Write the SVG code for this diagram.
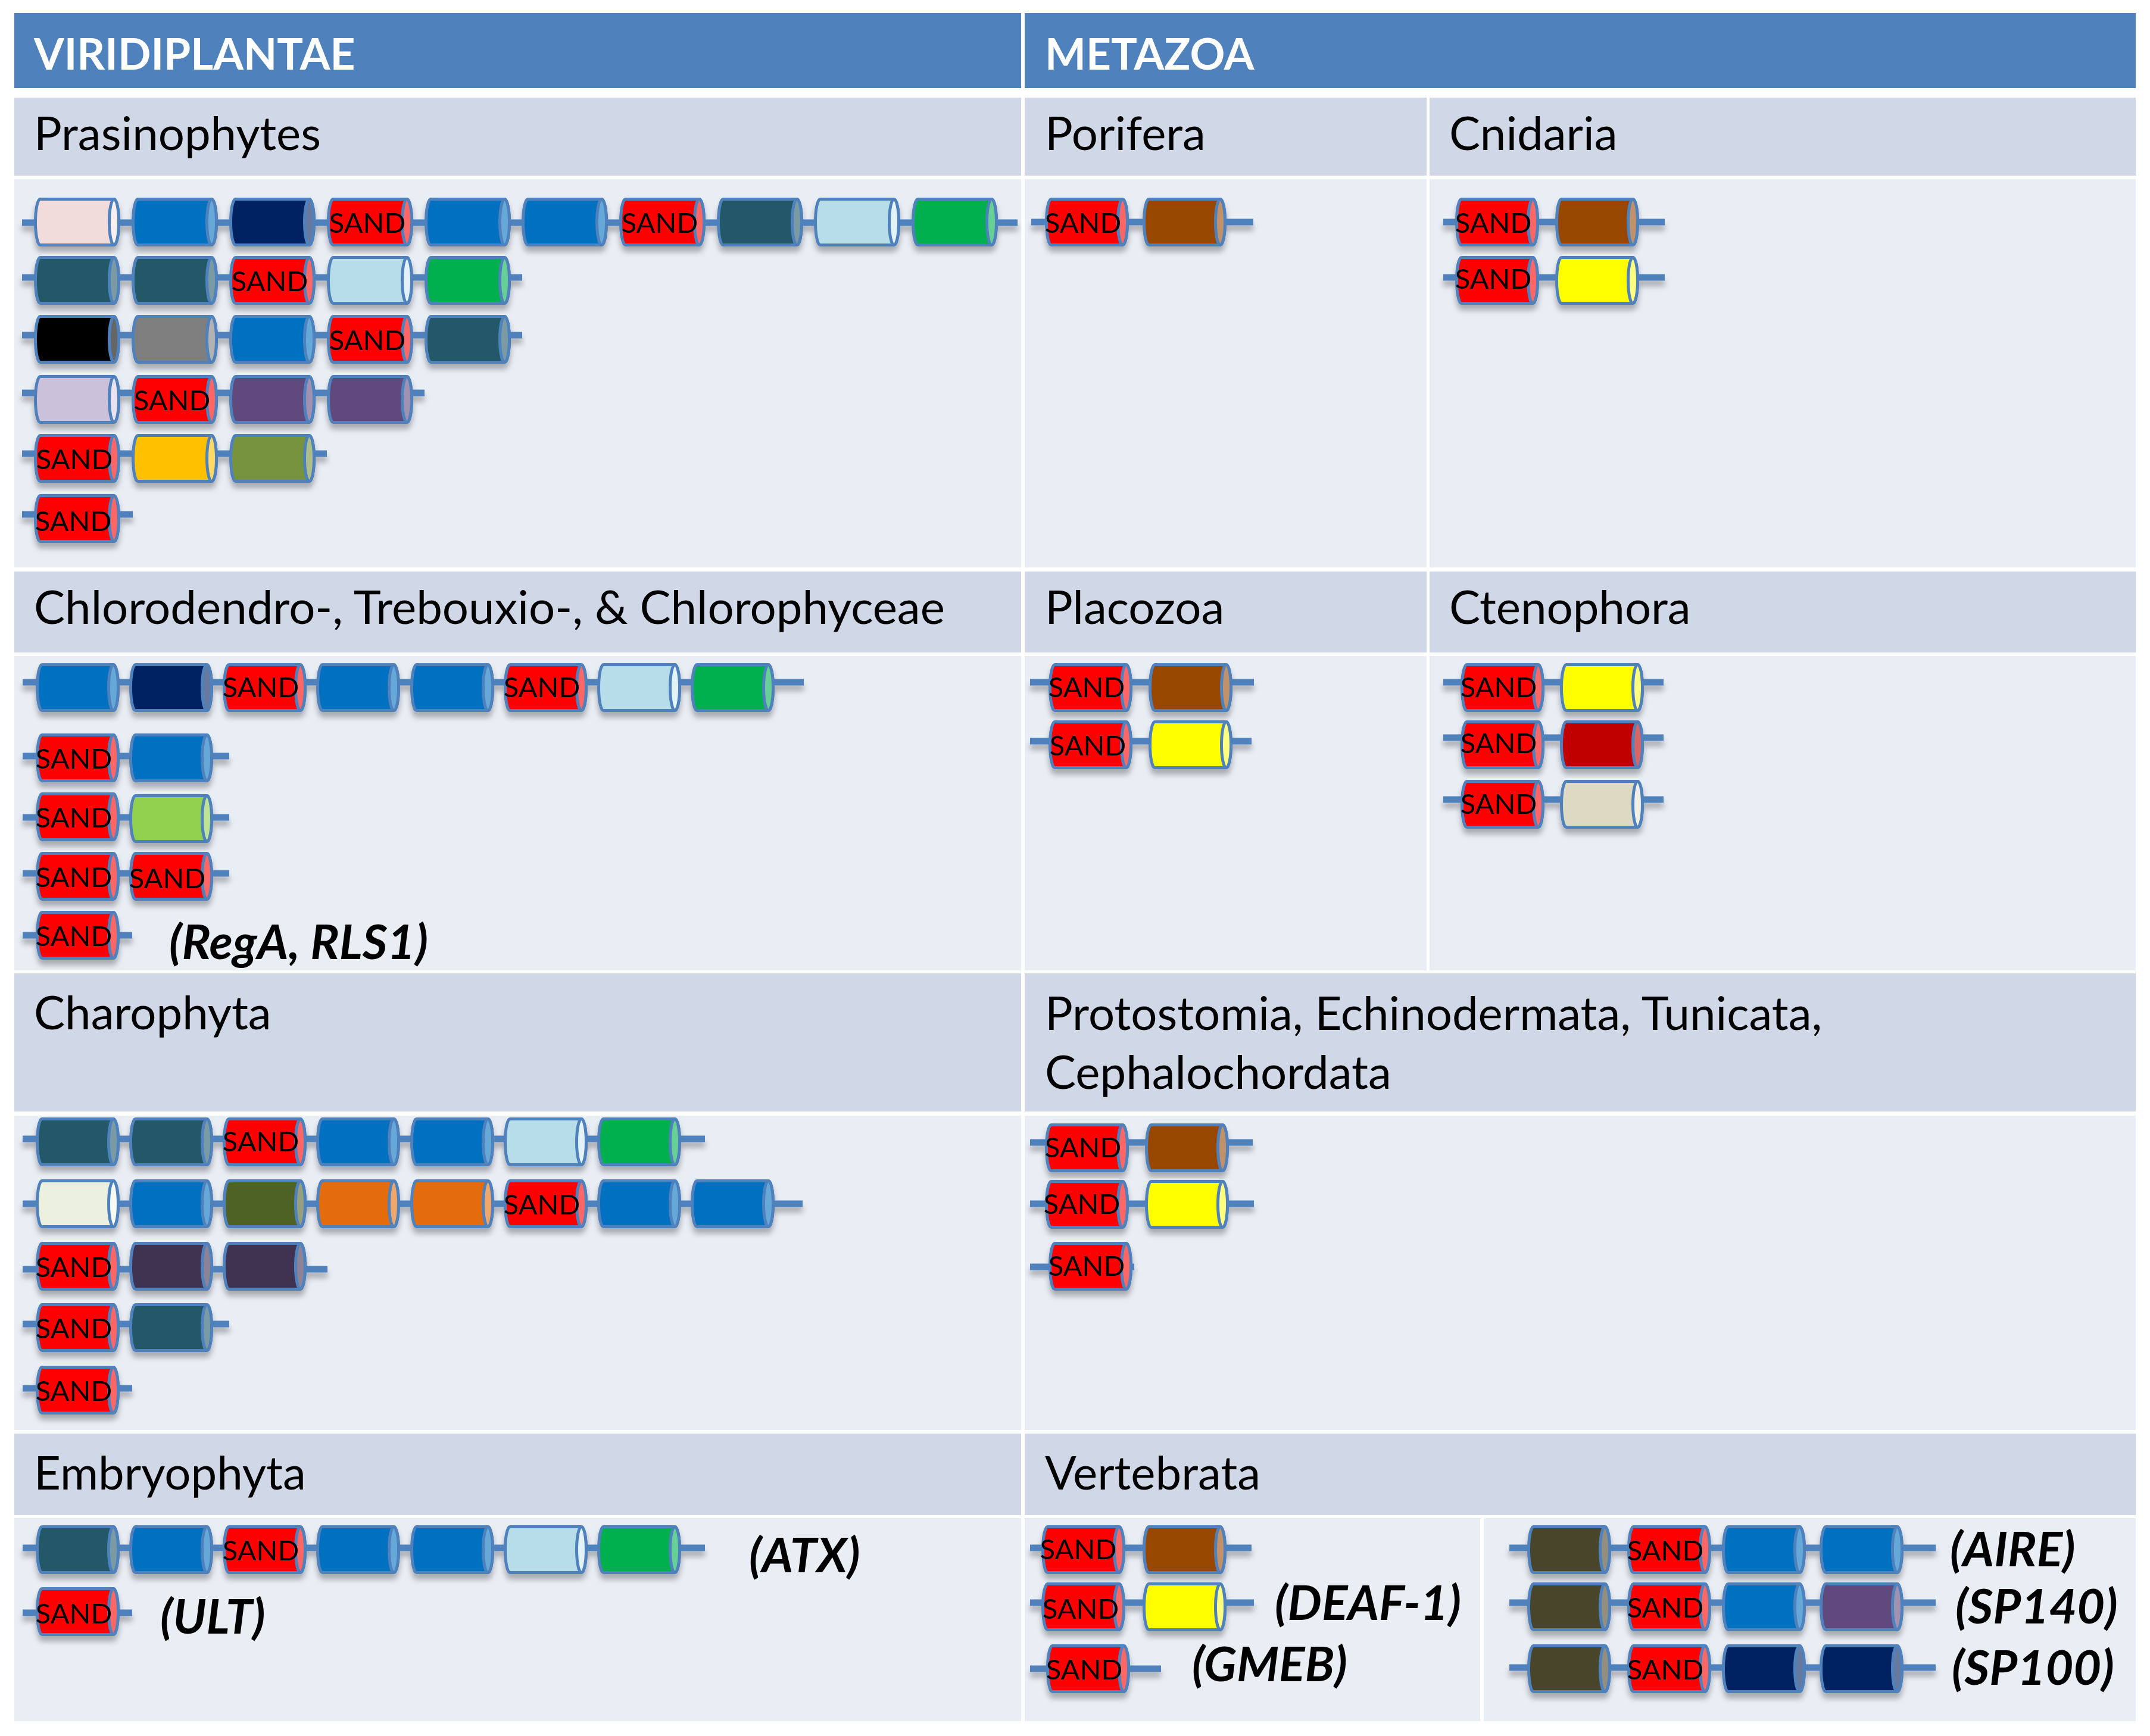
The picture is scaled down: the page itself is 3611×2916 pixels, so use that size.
<svg xmlns="http://www.w3.org/2000/svg" xmlns:xlink="http://www.w3.org/1999/xlink" width="3611" height="2916" viewBox="0 0 3611 2916">
<style>
.hdr{fill:#4F81BD}
.band{fill:#D0D8E8}
.cont{fill:#E9EDF4}
.ht{font-family:Lato,"Liberation Sans",sans-serif;font-weight:bold;font-size:73px;fill:#fff}
.bt{font-family:Lato,"Liberation Sans",sans-serif;font-size:78px;fill:#000}
.s{font-family:Lato,"Liberation Sans",sans-serif;font-size:47px;fill:#000;text-anchor:middle}
.it{font-family:Lato,"Liberation Sans",sans-serif;font-weight:bold;font-style:italic;font-size:81px;fill:#000}
.cy{stroke:#4F81BD;stroke-width:5}
.ln{stroke:#4F81BD;stroke-width:11}
</style>
<defs>
<filter id="sh" x="-10%" y="-30%" width="120%" height="180%">
<feDropShadow dx="0" dy="9" stdDeviation="5" flood-color="#000" flood-opacity="0.28"/>
</filter>
<path id="b5" d="M10.5,2.5 H134.5 A8,38.5 0 0 1 134.5,79.5 H10.5 A8,38.5 0 0 1 10.5,2.5 Z"/>
<ellipse id="e5" cx="134.5" cy="41" rx="8" ry="38.5"/>
<path id="b1" d="M10.5,2.5 H130.5 A8,38.5 0 0 1 130.5,79.5 H10.5 A8,38.5 0 0 1 10.5,2.5 Z"/>
<ellipse id="e1" cx="130.5" cy="41" rx="8" ry="38.5"/>
</defs>
<rect width="3611" height="2916" fill="#fff"/>
<g id="table">
<rect class="hdr" x="24" y="22" width="1691" height="126"/>
<rect class="hdr" x="1721" y="22" width="1866" height="126"/>
<rect class="band" x="24" y="164" width="1691" height="131"/>
<rect class="band" x="1721" y="164" width="675" height="131"/>
<rect class="band" x="2401" y="164" width="1186" height="131"/>
<rect class="cont" x="24" y="301" width="1691" height="652"/>
<rect class="cont" x="1721" y="301" width="675" height="652"/>
<rect class="cont" x="2401" y="301" width="1186" height="652"/>
<rect class="band" x="24" y="960" width="1691" height="136"/>
<rect class="band" x="1721" y="960" width="675" height="136"/>
<rect class="band" x="2401" y="960" width="1186" height="136"/>
<rect class="cont" x="24" y="1102" width="1691" height="528"/>
<rect class="cont" x="1721" y="1102" width="675" height="528"/>
<rect class="cont" x="2401" y="1102" width="1186" height="528"/>
<rect class="band" x="24" y="1635" width="1691" height="232"/>
<rect class="band" x="1721" y="1635" width="1866" height="232"/>
<rect class="cont" x="24" y="1874" width="1691" height="528"/>
<rect class="cont" x="1721" y="1874" width="1866" height="528"/>
<rect class="band" x="24" y="2408" width="1691" height="137"/>
<rect class="band" x="1721" y="2408" width="1866" height="137"/>
<rect class="cont" x="24" y="2550" width="1691" height="341"/>
<rect class="cont" x="1721" y="2550" width="765" height="341"/>
<rect class="cont" x="2492" y="2550" width="1095" height="341"/>
</g>
<g id="labels">
<text class="ht" x="57" y="117">VIRIDIPLANTAE</text>
<text class="ht" x="1755" y="117">METAZOA</text>
<text class="bt" x="57" y="252">Prasinophytes</text>
<text class="bt" x="1755" y="252">Porifera</text>
<text class="bt" x="2434" y="252">Cnidaria</text>
<text class="bt" x="57" y="1048">Chlorodendro-, Trebouxio-, &amp; Chlorophyceae</text>
<text class="bt" x="1755" y="1048">Placozoa</text>
<text class="bt" x="2434" y="1048">Ctenophora</text>
<text class="bt" x="57" y="1729">Charophyta</text>
<text class="bt" x="1755" y="1730">Protostomia, Echinodermata, Tunicata,</text>
<text class="bt" x="1755" y="1829">Cephalochordata</text>
<text class="bt" x="57" y="2502">Embryophyta</text>
<text class="bt" x="1755" y="2502">Vertebrata</text>
<text class="it" x="284" y="1611">(RegA, RLS1)</text>
<text class="it" x="1258" y="2641">(ATX)</text>
<text class="it" x="269" y="2744">(ULT)</text>
<text class="it" x="2141" y="2721">(DEAF-1)</text>
<text class="it" x="2002" y="2824">(GMEB)</text>
<text class="it" x="3275" y="2631">(AIRE)</text>
<text class="it" x="3284" y="2727">(SP140)</text>
<text class="it" x="3278" y="2830">(SP100)</text>
</g>

<!-- Prasinophytes -->
<g id="prasino-1">
<g filter="url(#sh)">
<line class="ln" x1="37" y1="374" x2="1709" y2="374"/>
<g class="cy" transform="translate(57,332)"><use href="#b5" fill="#F2DCDB"/><use href="#e5" fill="#F9EFEE"/></g>
<g class="cy" transform="translate(221,332)"><use href="#b5" fill="#0070C0"/><use href="#e5" fill="#66A9D9"/></g>
<g class="cy" transform="translate(385,332)"><use href="#b5" fill="#002060"/><use href="#e5" fill="#6679A0"/></g>
<g class="cy" transform="translate(549,332)"><use href="#b5" fill="#FF0000"/><use href="#e5" fill="#FF6666"/></g>
<g class="cy" transform="translate(713,332)"><use href="#b5" fill="#0070C0"/><use href="#e5" fill="#66A9D9"/></g>
<g class="cy" transform="translate(876,332)"><use href="#b5" fill="#0070C0"/><use href="#e5" fill="#66A9D9"/></g>
<g class="cy" transform="translate(1040,332)"><use href="#b5" fill="#FF0000"/><use href="#e5" fill="#FF6666"/></g>
<g class="cy" transform="translate(1204,332)"><use href="#b5" fill="#215968"/><use href="#e5" fill="#7A9BA4"/></g>
<g class="cy" transform="translate(1367,332)"><use href="#b5" fill="#B7DEE8"/><use href="#e5" fill="#E2F2F6"/></g>
<g class="cy" transform="translate(1531,332)"><use href="#b5" fill="#00B050"/><use href="#e5" fill="#66D096"/></g>
</g>
<text class="s" x="617" y="391">SAND</text><text class="s" x="1108" y="391">SAND</text>
</g>
<g id="prasino-2">
<g filter="url(#sh)">
<line class="ln" x1="37" y1="466" x2="877" y2="466"/>
<g class="cy" transform="translate(57,430)"><use href="#b5" fill="#215968"/><use href="#e5" fill="#7A9BA4"/></g>
<g class="cy" transform="translate(221,430)"><use href="#b5" fill="#215968"/><use href="#e5" fill="#7A9BA4"/></g>
<g class="cy" transform="translate(385,430)"><use href="#b5" fill="#FF0000"/><use href="#e5" fill="#FF6666"/></g>
<g class="cy" transform="translate(549,430)"><use href="#b5" fill="#B7DEE8"/><use href="#e5" fill="#E2F2F6"/></g>
<g class="cy" transform="translate(713,430)"><use href="#b5" fill="#00B050"/><use href="#e5" fill="#66D096"/></g>
</g>
<text class="s" x="453" y="489">SAND</text>
</g>
<g id="prasino-3">
<g filter="url(#sh)">
<line class="ln" x1="37" y1="563" x2="877" y2="563"/>
<g class="cy" transform="translate(57,529)"><use href="#b5" fill="#000000"/><use href="#e5" fill="#666666"/></g>
<g class="cy" transform="translate(221,529)"><use href="#b5" fill="#7F7F7F"/><use href="#e5" fill="#B2B2B2"/></g>
<g class="cy" transform="translate(385,529)"><use href="#b5" fill="#0070C0"/><use href="#e5" fill="#66A9D9"/></g>
<g class="cy" transform="translate(549,529)"><use href="#b5" fill="#FF0000"/><use href="#e5" fill="#FF6666"/></g>
<g class="cy" transform="translate(713,529)"><use href="#b5" fill="#215968"/><use href="#e5" fill="#7A9BA4"/></g>
</g>
<text class="s" x="617" y="588">SAND</text>
</g>
<g id="prasino-4">
<g filter="url(#sh)">
<line class="ln" x1="37" y1="660" x2="713" y2="660"/>
<g class="cy" transform="translate(57,630)"><use href="#b5" fill="#CCC1DA"/><use href="#e5" fill="#E8E3EF"/></g>
<g class="cy" transform="translate(221,630)"><use href="#b5" fill="#FF0000"/><use href="#e5" fill="#FF6666"/></g>
<g class="cy" transform="translate(385,630)"><use href="#b5" fill="#604A7B"/><use href="#e5" fill="#A092B0"/></g>
<g class="cy" transform="translate(549,630)"><use href="#b5" fill="#604A7B"/><use href="#e5" fill="#A092B0"/></g>
</g>
<text class="s" x="289" y="689">SAND</text>
</g>
<g id="prasino-5">
<g filter="url(#sh)">
<line class="ln" x1="37" y1="762" x2="549" y2="762"/>
<g class="cy" transform="translate(57,729)"><use href="#b5" fill="#FF0000"/><use href="#e5" fill="#FF6666"/></g>
<g class="cy" transform="translate(221,729)"><use href="#b5" fill="#FFC000"/><use href="#e5" fill="#FFD966"/></g>
<g class="cy" transform="translate(385,729)"><use href="#b5" fill="#77933C"/><use href="#e5" fill="#ADBE8A"/></g>
</g>
<text class="s" x="125" y="788">SAND</text>
</g>
<g id="prasino-6">
<g filter="url(#sh)">
<line class="ln" x1="37" y1="864" x2="223" y2="864"/>
<g class="cy" transform="translate(57,830)"><use href="#b5" fill="#FF0000"/><use href="#e5" fill="#FF6666"/></g>
</g>
<text class="s" x="123" y="892">SAND</text>
</g>

<!-- Chlorodendro -->
<g id="chloro-1">
<g filter="url(#sh)">
<line class="ln" x1="38" y1="1146" x2="1350" y2="1146"/>
<g class="cy" transform="translate(60,1114)"><use href="#b1" fill="#0070C0"/><use href="#e1" fill="#66A9D9"/></g>
<g class="cy" transform="translate(217,1114)"><use href="#b1" fill="#002060"/><use href="#e1" fill="#6679A0"/></g>
<g class="cy" transform="translate(374,1114)"><use href="#b1" fill="#FF0000"/><use href="#e1" fill="#FF6666"/></g>
<g class="cy" transform="translate(531,1114)"><use href="#b1" fill="#0070C0"/><use href="#e1" fill="#66A9D9"/></g>
<g class="cy" transform="translate(689,1114)"><use href="#b1" fill="#0070C0"/><use href="#e1" fill="#66A9D9"/></g>
<g class="cy" transform="translate(846,1114)"><use href="#b1" fill="#FF0000"/><use href="#e1" fill="#FF6666"/></g>
<g class="cy" transform="translate(1003,1114)"><use href="#b1" fill="#B7DEE8"/><use href="#e1" fill="#E2F2F6"/></g>
<g class="cy" transform="translate(1160,1114)"><use href="#b1" fill="#00B050"/><use href="#e1" fill="#66D096"/></g>
</g>
<text class="s" x="438" y="1171">SAND</text><text class="s" x="910" y="1171">SAND</text>
</g>
<g id="chloro-2">
<g filter="url(#sh)">
<line class="ln" x1="38" y1="1270" x2="385" y2="1270"/>
<g class="cy" transform="translate(60,1232)"><use href="#b1" fill="#FF0000"/><use href="#e1" fill="#FF6666"/></g>
<g class="cy" transform="translate(217,1232)"><use href="#b1" fill="#0070C0"/><use href="#e1" fill="#66A9D9"/></g>
</g>
<text class="s" x="124" y="1291">SAND</text>
</g>
<g id="chloro-3">
<g filter="url(#sh)">
<line class="ln" x1="38" y1="1373" x2="385" y2="1373"/>
<g class="cy" transform="translate(60,1331)"><use href="#b1" fill="#FF0000"/><use href="#e1" fill="#FF6666"/></g>
<g class="cy" transform="translate(217,1334)"><use href="#b1" fill="#92D050"/><use href="#e1" fill="#BEE396"/></g>
</g>
<text class="s" x="124" y="1390">SAND</text>
</g>
<g id="chloro-4">
<g filter="url(#sh)">
<line class="ln" x1="38" y1="1467" x2="385" y2="1467"/>
<g class="cy" transform="translate(60,1431)"><use href="#b1" fill="#FF0000"/><use href="#e1" fill="#FF6666"/></g>
<g class="cy" transform="translate(217,1431)"><use href="#b1" fill="#FF0000"/><use href="#e1" fill="#FF6666"/></g>
</g>
<text class="s" x="124" y="1490">SAND</text><text class="s" x="281" y="1492">SAND</text>
</g>
<g id="chloro-5">
<g filter="url(#sh)">
<line class="ln" x1="38" y1="1571" x2="222" y2="1571"/>
<g class="cy" transform="translate(60,1530)"><use href="#b1" fill="#FF0000"/><use href="#e1" fill="#FF6666"/></g>
</g>
<text class="s" x="124" y="1589">SAND</text>
</g>

<!-- Charophyta -->
<g id="charo-1">
<g filter="url(#sh)">
<line class="ln" x1="38" y1="1913" x2="1184" y2="1913"/>
<g class="cy" transform="translate(60,1877)"><use href="#b1" fill="#215968"/><use href="#e1" fill="#7A9BA4"/></g>
<g class="cy" transform="translate(217,1877)"><use href="#b1" fill="#215968"/><use href="#e1" fill="#7A9BA4"/></g>
<g class="cy" transform="translate(374,1877)"><use href="#b1" fill="#FF0000"/><use href="#e1" fill="#FF6666"/></g>
<g class="cy" transform="translate(531,1877)"><use href="#b1" fill="#0070C0"/><use href="#e1" fill="#66A9D9"/></g>
<g class="cy" transform="translate(689,1877)"><use href="#b1" fill="#0070C0"/><use href="#e1" fill="#66A9D9"/></g>
<g class="cy" transform="translate(846,1877)"><use href="#b1" fill="#B7DEE8"/><use href="#e1" fill="#E2F2F6"/></g>
<g class="cy" transform="translate(1003,1877)"><use href="#b1" fill="#00B050"/><use href="#e1" fill="#66D096"/></g>
</g>
<text class="s" x="438" y="1934">SAND</text>
</g>
<g id="charo-2">
<g filter="url(#sh)">
<line class="ln" x1="38" y1="2022" x2="1348" y2="2022"/>
<g class="cy" transform="translate(60,1981)"><use href="#b1" fill="#EBF1DE"/><use href="#e1" fill="#F7FAF2"/></g>
<g class="cy" transform="translate(217,1981)"><use href="#b1" fill="#0070C0"/><use href="#e1" fill="#66A9D9"/></g>
<g class="cy" transform="translate(374,1981)"><use href="#b1" fill="#4F6228"/><use href="#e1" fill="#95A17E"/></g>
<g class="cy" transform="translate(531,1981)"><use href="#b1" fill="#E46C0A"/><use href="#e1" fill="#EFA76C"/></g>
<g class="cy" transform="translate(689,1981)"><use href="#b1" fill="#E46C0A"/><use href="#e1" fill="#EFA76C"/></g>
<g class="cy" transform="translate(846,1981)"><use href="#b1" fill="#FF0000"/><use href="#e1" fill="#FF6666"/></g>
<g class="cy" transform="translate(1003,1981)"><use href="#b1" fill="#0070C0"/><use href="#e1" fill="#66A9D9"/></g>
<g class="cy" transform="translate(1160,1981)"><use href="#b1" fill="#0070C0"/><use href="#e1" fill="#66A9D9"/></g>
</g>
<text class="s" x="910" y="2040">SAND</text>
</g>
<g id="charo-3">
<g filter="url(#sh)">
<line class="ln" x1="38" y1="2132" x2="550" y2="2132"/>
<g class="cy" transform="translate(60,2086)"><use href="#b1" fill="#FF0000"/><use href="#e1" fill="#FF6666"/></g>
<g class="cy" transform="translate(217,2086)"><use href="#b1" fill="#3F3151"/><use href="#e1" fill="#8C8397"/></g>
<g class="cy" transform="translate(374,2086)"><use href="#b1" fill="#3F3151"/><use href="#e1" fill="#8C8397"/></g>
</g>
<text class="s" x="124" y="2145">SAND</text>
</g>
<g id="charo-4">
<g filter="url(#sh)">
<line class="ln" x1="38" y1="2224" x2="385" y2="2224"/>
<g class="cy" transform="translate(60,2189)"><use href="#b1" fill="#FF0000"/><use href="#e1" fill="#FF6666"/></g>
<g class="cy" transform="translate(217,2189)"><use href="#b1" fill="#215968"/><use href="#e1" fill="#7A9BA4"/></g>
</g>
<text class="s" x="124" y="2248">SAND</text>
</g>
<g id="charo-5">
<g filter="url(#sh)">
<line class="ln" x1="38" y1="2332" x2="222" y2="2332"/>
<g class="cy" transform="translate(60,2294)"><use href="#b1" fill="#FF0000"/><use href="#e1" fill="#FF6666"/></g>
</g>
<text class="s" x="124" y="2353">SAND</text>
</g>

<!-- Embryophyta -->
<g id="embryo-1">
<g filter="url(#sh)">
<line class="ln" x1="38" y1="2600" x2="1184" y2="2600"/>
<g class="cy" transform="translate(60,2562)"><use href="#b1" fill="#215968"/><use href="#e1" fill="#7A9BA4"/></g>
<g class="cy" transform="translate(217,2562)"><use href="#b1" fill="#0070C0"/><use href="#e1" fill="#66A9D9"/></g>
<g class="cy" transform="translate(374,2562)"><use href="#b1" fill="#FF0000"/><use href="#e1" fill="#FF6666"/></g>
<g class="cy" transform="translate(531,2562)"><use href="#b1" fill="#0070C0"/><use href="#e1" fill="#66A9D9"/></g>
<g class="cy" transform="translate(689,2562)"><use href="#b1" fill="#0070C0"/><use href="#e1" fill="#66A9D9"/></g>
<g class="cy" transform="translate(846,2562)"><use href="#b1" fill="#B7DEE8"/><use href="#e1" fill="#E2F2F6"/></g>
<g class="cy" transform="translate(1003,2562)"><use href="#b1" fill="#00B050"/><use href="#e1" fill="#66D096"/></g>
</g>
<text class="s" x="438" y="2621">SAND</text>
</g>
<g id="embryo-2">
<g filter="url(#sh)">
<line class="ln" x1="38" y1="2709" x2="222" y2="2709"/>
<g class="cy" transform="translate(60,2666)"><use href="#b1" fill="#FF0000"/><use href="#e1" fill="#FF6666"/></g>
</g>
<text class="s" x="124" y="2727">SAND</text>
</g>

<!-- Porifera / Cnidaria -->
<g id="porifera-1">
<g filter="url(#sh)">
<line class="ln" x1="1732" y1="373" x2="2105" y2="373"/>
<g class="cy" transform="translate(1755,332)"><use href="#b1" fill="#FF0000"/><use href="#e1" fill="#FF6666"/></g>
<g class="cy" transform="translate(1919,332)"><use href="#b1" fill="#974706"/><use href="#e1" fill="#C1916A"/></g>
</g>
<text class="s" x="1819" y="391">SAND</text>
</g>
<g id="cnidaria-1">
<g filter="url(#sh)">
<line class="ln" x1="2424" y1="373" x2="2796" y2="373"/>
<g class="cy" transform="translate(2444,332)"><use href="#b1" fill="#FF0000"/><use href="#e1" fill="#FF6666"/></g>
<g class="cy" transform="translate(2612,332)"><use href="#b1" fill="#974706"/><use href="#e1" fill="#C1916A"/></g>
</g>
<text class="s" x="2508" y="391">SAND</text>
</g>
<g id="cnidaria-2">
<g filter="url(#sh)">
<line class="ln" x1="2424" y1="466" x2="2796" y2="466"/>
<g class="cy" transform="translate(2444,430)"><use href="#b1" fill="#FF0000"/><use href="#e1" fill="#FF6666"/></g>
<g class="cy" transform="translate(2612,430)"><use href="#b1" fill="#FFFF00"/><use href="#e1" fill="#FFFF80"/></g>
</g>
<text class="s" x="2508" y="485">SAND</text>
</g>

<!-- Placozoa / Ctenophora -->
<g id="placozoa-1">
<g filter="url(#sh)">
<line class="ln" x1="1730" y1="1146" x2="2106" y2="1146"/>
<g class="cy" transform="translate(1761,1114)"><use href="#b1" fill="#FF0000"/><use href="#e1" fill="#FF6666"/></g>
<g class="cy" transform="translate(1929,1114)"><use href="#b1" fill="#974706"/><use href="#e1" fill="#C1916A"/></g>
</g>
<text class="s" x="1825" y="1171">SAND</text>
</g>
<g id="placozoa-2">
<g filter="url(#sh)">
<line class="ln" x1="1730" y1="1245" x2="2102" y2="1245"/>
<g class="cy" transform="translate(1761,1210)"><use href="#b1" fill="#FF0000"/><use href="#e1" fill="#FF6666"/></g>
<g class="cy" transform="translate(1929,1210)"><use href="#b1" fill="#FFFF00"/><use href="#e1" fill="#FFFF80"/></g>
</g>
<text class="s" x="1827" y="1269">SAND</text>
</g>
<g id="ctenophora-1">
<g filter="url(#sh)">
<line class="ln" x1="2424" y1="1146" x2="2794" y2="1146"/>
<g class="cy" transform="translate(2453,1114)"><use href="#b1" fill="#FF0000"/><use href="#e1" fill="#FF6666"/></g>
<g class="cy" transform="translate(2620,1114)"><use href="#b1" fill="#FFFF00"/><use href="#e1" fill="#FFFF80"/></g>
</g>
<text class="s" x="2517" y="1171">SAND</text>
</g>
<g id="ctenophora-2">
<g filter="url(#sh)">
<line class="ln" x1="2424" y1="1239" x2="2794" y2="1239"/>
<g class="cy" transform="translate(2453,1210)"><use href="#b1" fill="#FF0000"/><use href="#e1" fill="#FF6666"/></g>
<g class="cy" transform="translate(2620,1210)"><use href="#b1" fill="#C00000"/><use href="#e1" fill="#D96666"/></g>
</g>
<text class="s" x="2517" y="1265">SAND</text>
</g>
<g id="ctenophora-3">
<g filter="url(#sh)">
<line class="ln" x1="2424" y1="1343" x2="2794" y2="1343"/>
<g class="cy" transform="translate(2453,1310)"><use href="#b1" fill="#FF0000"/><use href="#e1" fill="#FF6666"/></g>
<g class="cy" transform="translate(2620,1310)"><use href="#b1" fill="#DDD9C3"/><use href="#e1" fill="#F1EFE6"/></g>
</g>
<text class="s" x="2517" y="1367">SAND</text>
</g>

<!-- Protostomia -->
<g id="proto-1">
<g filter="url(#sh)">
<line class="ln" x1="1730" y1="1919" x2="2104" y2="1919"/>
<g class="cy" transform="translate(1755,1887)"><use href="#b1" fill="#FF0000"/><use href="#e1" fill="#FF6666"/></g>
<g class="cy" transform="translate(1923,1887)"><use href="#b1" fill="#974706"/><use href="#e1" fill="#C1916A"/></g>
</g>
<text class="s" x="1819" y="1944">SAND</text>
</g>
<g id="proto-2">
<g filter="url(#sh)">
<line class="ln" x1="1730" y1="2022" x2="2106" y2="2022"/>
<g class="cy" transform="translate(1755,1982)"><use href="#b1" fill="#FF0000"/><use href="#e1" fill="#FF6666"/></g>
<g class="cy" transform="translate(1923,1982)"><use href="#b1" fill="#FFFF00"/><use href="#e1" fill="#FFFF80"/></g>
</g>
<text class="s" x="1817" y="2039">SAND</text>
</g>
<g id="proto-3">
<g filter="url(#sh)">
<line class="ln" x1="1730" y1="2128" x2="1905" y2="2128"/>
<g class="cy" transform="translate(1761,2086)"><use href="#b1" fill="#FF0000"/><use href="#e1" fill="#FF6666"/></g>
</g>
<text class="s" x="1825" y="2143">SAND</text>
</g>

<!-- Vertebrata -->
<g id="vert-l1">
<g filter="url(#sh)">
<line class="ln" x1="1730" y1="2600" x2="2102" y2="2600"/>
<g class="cy" transform="translate(1749,2562)"><use href="#b1" fill="#FF0000"/><use href="#e1" fill="#FF6666"/></g>
<g class="cy" transform="translate(1919,2562)"><use href="#b1" fill="#974706"/><use href="#e1" fill="#C1916A"/></g>
</g>
<text class="s" x="1811" y="2619">SAND</text>
</g>
<g id="vert-l2">
<g filter="url(#sh)">
<line class="ln" x1="1730" y1="2692" x2="2106" y2="2692"/>
<g class="cy" transform="translate(1749,2658)"><use href="#b1" fill="#FF0000"/><use href="#e1" fill="#FF6666"/></g>
<g class="cy" transform="translate(1919,2658)"><use href="#b1" fill="#FFFF00"/><use href="#e1" fill="#FFFF80"/></g>
</g>
<text class="s" x="1815" y="2719">SAND</text>
</g>
<g id="vert-l3">
<g filter="url(#sh)">
<line class="ln" x1="1730" y1="2803" x2="1950" y2="2803"/>
<g class="cy" transform="translate(1757,2762)"><use href="#b1" fill="#FF0000"/><use href="#e1" fill="#FF6666"/></g>
</g>
<text class="s" x="1821" y="2821">SAND</text>
</g>
<g id="vert-r1">
<g filter="url(#sh)">
<line class="ln" x1="2535" y1="2600" x2="3251" y2="2600"/>
<g class="cy" transform="translate(2565,2562)"><use href="#b1" fill="#4A452A"/><use href="#e1" fill="#928F7F"/></g>
<g class="cy" transform="translate(2733,2562)"><use href="#b1" fill="#FF0000"/><use href="#e1" fill="#FF6666"/></g>
<g class="cy" transform="translate(2892,2562)"><use href="#b1" fill="#0070C0"/><use href="#e1" fill="#66A9D9"/></g>
<g class="cy" transform="translate(3056,2562)"><use href="#b1" fill="#0070C0"/><use href="#e1" fill="#66A9D9"/></g>
</g>
<text class="s" x="2797" y="2621">SAND</text>
</g>
<g id="vert-r2">
<g filter="url(#sh)">
<line class="ln" x1="2535" y1="2692" x2="3251" y2="2692"/>
<g class="cy" transform="translate(2565,2658)"><use href="#b1" fill="#4A452A"/><use href="#e1" fill="#928F7F"/></g>
<g class="cy" transform="translate(2733,2658)"><use href="#b1" fill="#FF0000"/><use href="#e1" fill="#FF6666"/></g>
<g class="cy" transform="translate(2892,2658)"><use href="#b1" fill="#0070C0"/><use href="#e1" fill="#66A9D9"/></g>
<g class="cy" transform="translate(3056,2658)"><use href="#b1" fill="#604A7B"/><use href="#e1" fill="#A092B0"/></g>
</g>
<text class="s" x="2797" y="2717">SAND</text>
</g>
<g id="vert-r3">
<g filter="url(#sh)">
<line class="ln" x1="2535" y1="2801" x2="3251" y2="2801"/>
<g class="cy" transform="translate(2565,2762)"><use href="#b1" fill="#4A452A"/><use href="#e1" fill="#928F7F"/></g>
<g class="cy" transform="translate(2733,2762)"><use href="#b1" fill="#FF0000"/><use href="#e1" fill="#FF6666"/></g>
<g class="cy" transform="translate(2892,2762)"><use href="#b1" fill="#002060"/><use href="#e1" fill="#6679A0"/></g>
<g class="cy" transform="translate(3056,2762)"><use href="#b1" fill="#002060"/><use href="#e1" fill="#6679A0"/></g>
</g>
<text class="s" x="2797" y="2821">SAND</text>
</g>
</svg>
